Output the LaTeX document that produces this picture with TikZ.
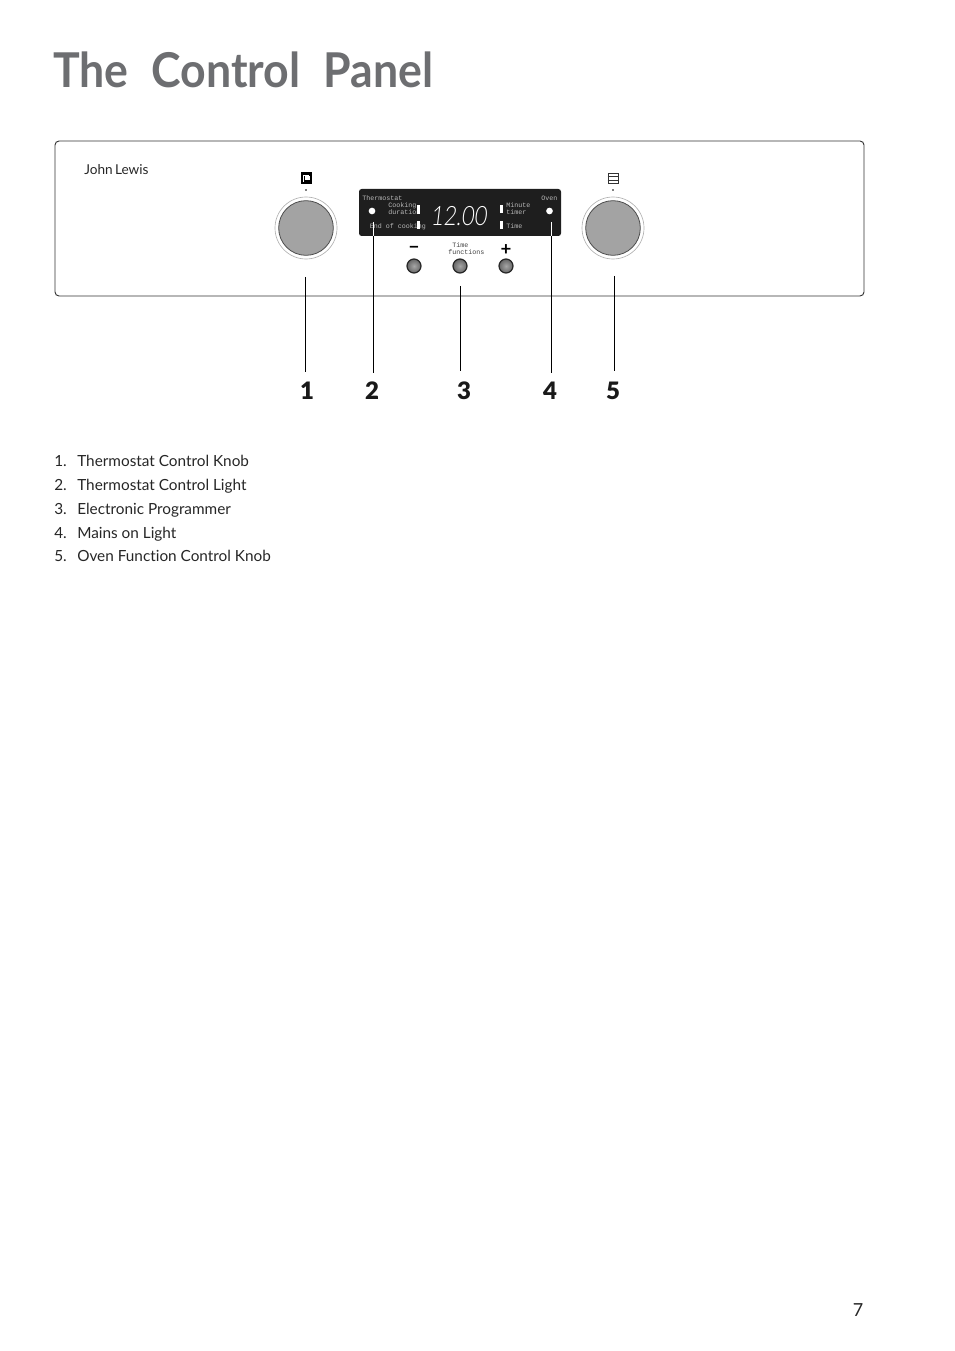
\documentclass[tikz,border=0pt]{standalone}
\usepackage{fontspec}
\setmainfont[Ligatures=NoCommon]{Lato}
\setmonofont{Liberation Mono}
\newfontfamily\segfont[FakeSlant=0.12,FakeStretch=0.82]{Lato Light}
\newfontfamily\titlefont[FakeStretch=0.93]{Lato Bold}
\newfontfamily\heavyfont{Lato Black}
\usepackage{tikz}
\usetikzlibrary{positioning}
\definecolor{titlegray}{HTML}{6D6E71}
\definecolor{knobgray}{HTML}{A3A3A3}
\definecolor{displayblack}{HTML}{1E1E1E}
\tikzstyle{panel} = [rectangle, rounded corners=3pt, draw=black!80, line width=0.7pt, minimum width=606.75pt, minimum height=116.25pt, inner sep=0pt]
\tikzstyle{display} = [rectangle, rounded corners=2pt, fill=displayblack, minimum width=151.5pt, minimum height=35.25pt, inner sep=0pt]
\tikzstyle{knobring} = [circle, draw=black!30, line width=0.5pt, minimum size=46.5pt, inner sep=0pt]
\tikzstyle{knob} = [circle, draw=black!70, fill=knobgray, line width=0.6pt, minimum size=41pt, inner sep=0pt]
\tikzstyle{pushbutton} = [circle, draw=black!85, line width=0.9pt, inner color=black!35, outer color=black!60, minimum size=10.5pt, inner sep=0pt]
\tikzstyle{lamp} = [circle, fill=white, minimum size=5pt, inner sep=0pt]
\tikzstyle{indicator} = [rectangle, fill=white, minimum width=2.4pt, minimum height=6.6pt, inner sep=0pt]
\tikzstyle{tinydot} = [circle, fill=black, minimum size=1.3pt, inner sep=0pt]
\tikzstyle{paneltext} = [anchor=base west, inner sep=0pt, text=white!72!black, font=\ttfamily\fontsize{5}{5}\selectfont]
\tikzstyle{listtext} = [anchor=base west, inner sep=0pt, text=black!85, font=\fontsize{11.5}{14}\selectfont]
\tikzstyle{callout} = [inner sep=0pt, text=black!90, font=\fontsize{18}{20}\selectfont\heavyfont]
\tikzstyle{leader} = [black, line width=0.5pt]
\tikzstyle{leaderwhite} = [white, line width=0.7pt]

\begin{document}
\begin{tikzpicture}[x=0.75pt, y=-0.75pt, node distance=13.5pt]
\useasboundingbox (0,0) rectangle (954,1351);

% Title
\node (title) [anchor=base west, inner sep=0pt, text=titlegray, font=\fontsize{36}{40}\selectfont\titlefont] at (53,87.5) {The\hspace{0.25em} Control\hspace{0.25em} Panel};

% Panel and brand
\node (panel) [panel] at (459.5,218.5) {};
\node (brand) [anchor=base west, inner sep=0pt, text=black!85, font=\fontsize{10.2}{13}\selectfont] at (84,175) {John\hspace{-0.08em} Lewis};

% Knobs
\node (ringleft) [knobring] at (306,228) {};
\node (knobleft) [knob] at (306,228) {};
\node (ringright) [knobring] at (613,228) {};
\node (knobright) [knob] at (613,228) {};
\node (dotleft) [tinydot] at (306,190) {};
\node (dotright) [tinydot] at (613,190) {};

% Knob symbols
\node (iconleft) [rectangle, fill=black, minimum width=8pt, minimum height=9pt, inner sep=0pt] at (306.5,178) {};
\draw [white, line width=0.6pt] (303.5,175) -- (309,175) (303.5,175) -- (303.5,182);
\node (iconmark) [rectangle, fill=white, minimum width=3.2pt, minimum height=2.8pt, inner sep=0pt] at (307.5,178) {};
\node (iconright) [rectangle, draw=black!80, line width=0.5pt, minimum width=7.5pt, minimum height=7.5pt, inner sep=0pt] at (613,178) {};
\draw [black!80, line width=0.4pt] (iconright.west) ++(0,-2) -- ++(10,0) (iconright.west) ++(0,2) -- ++(10,0);

% Display
\node (display) [display] at (460,212.5) {};
\node (lampleft) [lamp] at (372,211) {};
\node (lampright) [lamp] at (549.5,211) {};
\node (clock) [inner sep=0pt, text=white, font=\fontsize{20}{20}\selectfont\segfont] at (458.5,216.5) {12.00};

\node (thermostat) [paneltext] at (362,200.5) {Thermostat};
\node (cooking) [paneltext] at (388,207.5) {Cooking};
\node (duration) [paneltext] at (388,214.5) {duration};
\node (endcooking) [paneltext] at (369.5,229) {End of cooking};
\node (minute) [paneltext] at (506,207.5) {Minute};
\node (timer) [paneltext] at (506,214.5) {timer};
\node (timetext) [paneltext] at (506,229) {Time};
\node (oven) [paneltext] at (541,200.5) {Oven};

\node (barone) [indicator] at (418.5,209.5) {};
\node (bartwo) [indicator] at (418.5,225) {};
\node (barthree) [indicator] at (501.5,209) {};
\node (barfour) [indicator] at (501.5,225) {};

% Programmer buttons
\node (btnminus) [pushbutton] at (414,266) {};
\node (btntime) [pushbutton] at (460,266) {};
\node (btnplus) [pushbutton] at (506,266) {};
\node (minus) [above of=btnminus, yshift=-1.8pt, inner sep=0pt, font=\fontsize{14}{14}\selectfont\bfseries] {\textminus};
\node (plus) [above of=btnplus, yshift=-1.2pt, inner sep=0pt, font=\fontsize{14}{14}\selectfont\bfseries] {+};
\node (timeword) [paneltext, text=black!75] at (452,247.5) {Time};
\node (functions) [paneltext, text=black!75] at (448,254.5) {functions};

% Callout numbers
\node (numone) [callout] at (307,391) {1};
\node (numtwo) [callout] at (372,391) {2};
\node (numthree) [callout] at (464,391) {3};
\node (numfour) [callout] at (550,391) {4};
\node (numfive) [callout] at (613,391) {5};

% Leader ends
\coordinate (topone) at (305.5,277);
\coordinate (endone) at (305.5,372);
\coordinate (toptwo) at (373.5,222);
\coordinate (midtwo) at (373.5,236);
\coordinate (endtwo) at (373.5,373);
\coordinate (topthree) at (460.5,286);
\coordinate (endthree) at (460.5,371);
\coordinate (topfour) at (551.5,222);
\coordinate (midfour) at (551.5,236);
\coordinate (endfour) at (551.5,373);
\coordinate (topfive) at (614.5,276);
\coordinate (endfive) at (614.5,371);

% Leaders
\draw [leader] (topone) -- (endone);
\draw [leaderwhite] (toptwo) -- (midtwo);
\draw [leader] (midtwo) -- (endtwo);
\draw [leader] (topthree) -- (endthree);
\draw [leaderwhite] (topfour) -- (midfour);
\draw [leader] (midfour) -- (endfour);
\draw [leader] (topfive) -- (endfive);

% Key list
\node (keyone) [listtext] at (54,466) {1.};
\node (keytwo) [listtext] at (54,490) {2.};
\node (keythree) [listtext] at (54,514) {3.};
\node (keyfour) [listtext] at (54,538) {4.};
\node (keyfive) [listtext] at (54,561) {5.};
\node (itemone) [listtext] at (77,466) {Thermostat Control Knob};
\node (itemtwo) [listtext] at (77,490) {Thermostat Control Light};
\node (itemthree) [listtext] at (77,514) {Electronic Programmer};
\node (itemfour) [listtext] at (77,538) {Mains on Light};
\node (itemfive) [listtext] at (77,561) {Oven Function Control Knob};

% Page number
\node (pagenum) [inner sep=0pt, text=black!85, font=\fontsize{13.5}{15}\selectfont] at (858,1310) {7};

\end{tikzpicture}
\end{document}
